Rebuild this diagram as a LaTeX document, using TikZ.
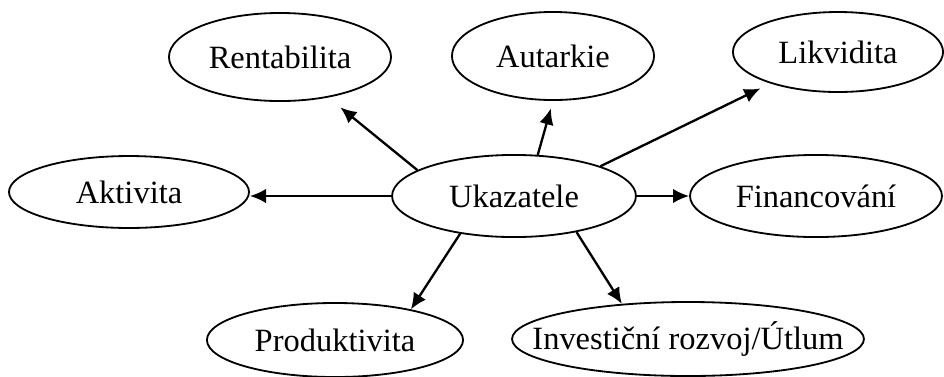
\documentclass[tikz,border=0pt]{standalone}
\usepackage{fontspec}
\setmainfont{Liberation Serif}
\usetikzlibrary{shapes.geometric,arrows.meta}
\tikzstyle{bubble}=[draw=black,line width=0.7pt,ellipse,inner sep=0pt,font=\fontsize{12.5}{15}\selectfont]
\tikzstyle{link}=[line width=0.9pt,-{Latex[length=6.2pt,width=5.6pt]}]

\begin{document}
\begin{tikzpicture}[x=0.385pt,y=-0.385pt]
  \useasboundingbox (0,0) rectangle (944,376);
  % centre
  \node[bubble,minimum width=93.9pt,minimum height=31.6pt] (ukazatele) at (514,196) {Ukazatele};
  % top row
  \node[bubble,minimum width=85.5pt,minimum height=33.9pt] (rentabilita) at (280,57) {Rentabilita};
  \node[bubble,minimum width=77.8pt,minimum height=33.9pt] (autarkie) at (553,56) {Autarkie};
  \node[bubble,minimum width=80.9pt,minimum height=30.8pt] (likvidita) at (838,52) {Likvidita};
  % middle row
  \node[bubble,minimum width=92.4pt,minimum height=27.7pt] (aktivita) at (129,192) {Aktivita};
  \node[bubble,minimum width=97pt,minimum height=31.6pt] (financovani) at (816,196) {Financování};
  % bottom row
  \node[bubble,minimum width=98.6pt,minimum height=28.5pt] (produktivita) at (335,340) {Produktivita};
  \node[bubble,inner xsep=-13.2pt,minimum width=135.5pt,minimum height=28.5pt] (investicni) at (688,339) {Investiční rozvoj/Útlum};

  \draw[link,shorten >=6pt] (ukazatele.165) -- (rentabilita.-40);
  \draw[link,shorten >=3pt] (ukazatele.60) -- (autarkie.-90);
  \draw[link,shorten >=4.3pt] (ukazatele.19) -- (likvidita.205);
  \draw[link] (ukazatele.west) -- (aktivita.east |- ukazatele.west);
  \draw[link] (ukazatele.east) -- (financovani.west);
  \draw[link] (ukazatele.215) -- (produktivita.22);
  \draw[link] (ukazatele.-30) -- (investicni.152);
\end{tikzpicture}
\end{document}
